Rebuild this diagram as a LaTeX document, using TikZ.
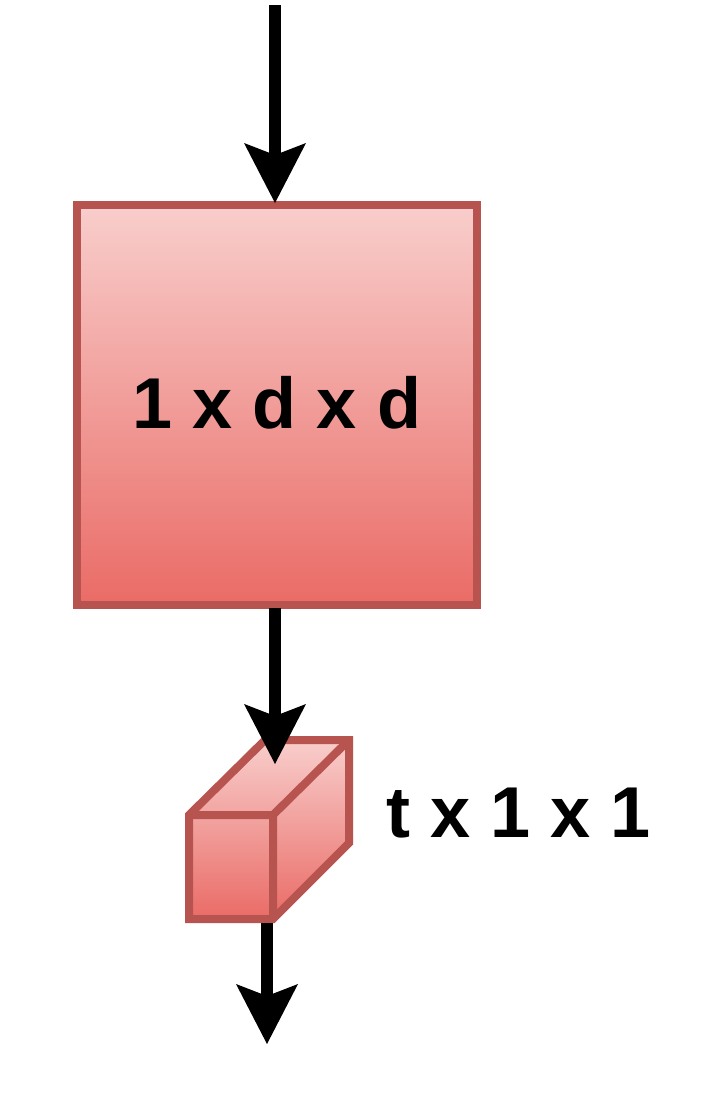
\documentclass[tikz,border=0pt]{standalone}
\usepackage{fontspec}
\setmainfont{Liberation Sans}
\usetikzlibrary{arrows.meta}
\definecolor{fillTop}{HTML}{F8CECC}
\definecolor{fillBot}{HTML}{EA6B66}
\definecolor{strokeRed}{HTML}{B85450}
\begin{document}
\begin{tikzpicture}[x=1pt,y=-1pt,
  flow/.style={line width=12pt,-{Stealth[length=60pt,width=62pt,inset=12pt,line width=0pt]}},
  box/.style={draw=strokeRed,line width=8pt,top color=fillTop,bottom color=fillBot},
  edgeline/.style={draw=strokeRed,line width=8pt},
  lbl/.style={font=\fontsize{72}{86}\selectfont\bfseries,inner sep=0pt}]
\useasboundingbox (0,0) rectangle (724,1112);
% square
\node[box,lbl,minimum width=400pt,minimum height=400pt,outer sep=0pt] (sq) at (277,404.5) {\raisebox{3.5pt}{1 x d x d}};
% cube
\coordinate (cfl) at (189,815);
\coordinate (cbl) at (265,740);
\coordinate (cbr) at (349,740);
\coordinate (cbrb) at (349,843);
\coordinate (cfrb) at (273,919);
\coordinate (cflb) at (189,919);
\coordinate (cfr) at (273,815);
\path[box,line join=miter] (cfl) -- (cbl) -- (cbr) -- (cbrb) -- (cfrb) -- (cflb) -- cycle;
\draw[edgeline] (cfl) -- (cfr) -- (cbr) (cfr) -- (cfrb);
\node[lbl] (lab) at (519,813) {t x 1 x 1};
% arrows
\coordinate (in) at (275,5);
\coordinate (sqtop) at (275,203);
\coordinate (sqbot) at (275,608);
\coordinate (cubein) at (275,764);
\coordinate (cubeout) at (267,923);
\coordinate (out) at (267,1044);
\draw[flow] (in) -- (sqtop);
\draw[flow] (sqbot) -- (cubein);
\draw[flow] (cubeout) -- (out);
\end{tikzpicture}
\end{document}
